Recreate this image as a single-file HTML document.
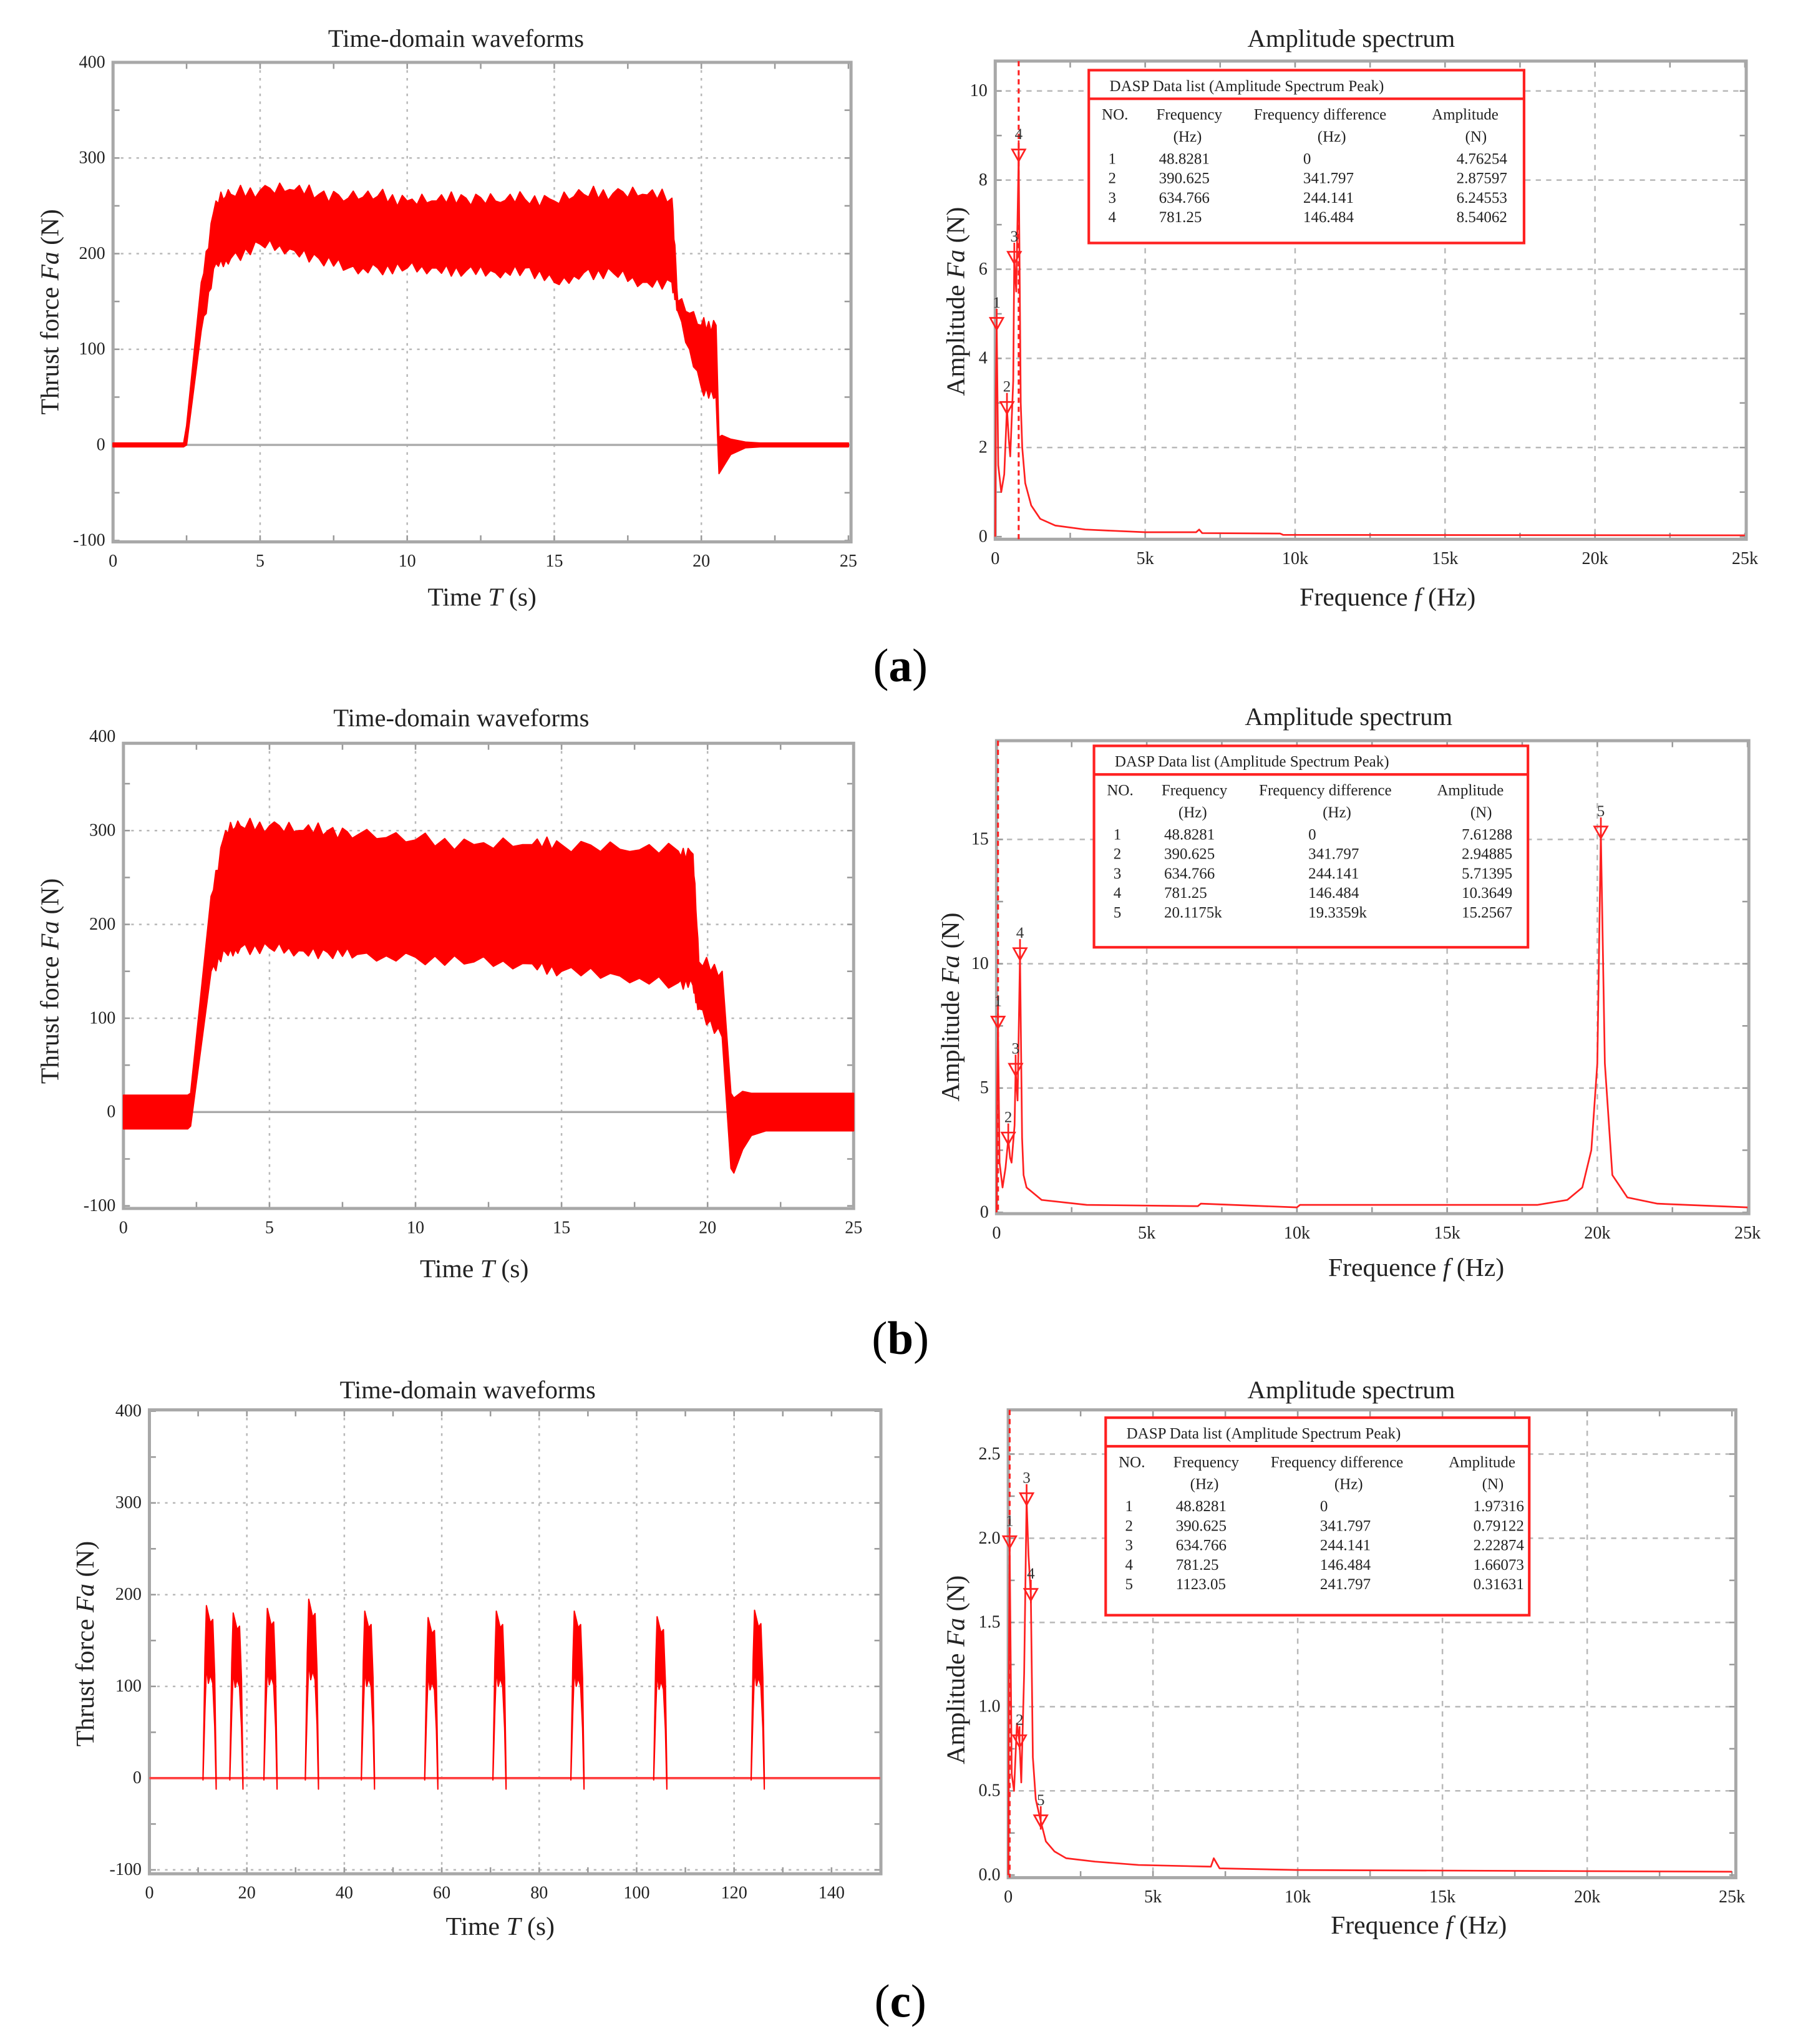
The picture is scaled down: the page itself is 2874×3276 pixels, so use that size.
<!DOCTYPE html>
<html><head><meta charset="utf-8">
<style>
html,body{margin:0;padding:0;background:#fff;}
svg{display:block;font-family:"Liberation Serif",serif;}
</style></head>
<body>
<svg id="fig" width="2874" height="3276" viewBox="0 0 1380 1573" preserveAspectRatio="none" xmlns="http://www.w3.org/2000/svg">
<rect x="0" y="0" width="1380" height="1573" fill="#fff"/>
<text x="693" y="524" font-size="36" text-anchor="middle" font-family="Liberation Serif,serif">(<tspan font-weight="bold">a</tspan>)</text>
<text x="693" y="1042" font-size="36" text-anchor="middle">(<tspan font-weight="bold">b</tspan>)</text>
<text x="693" y="1552" font-size="36" text-anchor="middle">(<tspan font-weight="bold">c</tspan>)</text>
</svg>
<script>
// ---------- DATA ----------
const aTime = [0,2.4,2.5,3,3.5,4,5,6,7,8,9,10,11,12,13,14,15,16,17,18,19,19.2,20,20.5,20.6,20.7,21,21.5,22,25];
const aUpper = [2,2,20,170,255,262,266,267,262,258,260,255,255,258,255,257,255,262,263,262,258,150,125,125,8,10,6,3,2,2];
const aLower = [-2,-2,0,120,190,195,210,205,195,185,185,185,185,182,180,185,170,180,180,170,170,140,60,50,-30,-25,-10,-3,-2,-2];
const bTime = [0,2.2,2.3,3,3.5,4,5,6,7,8,10,12,14,15,17,19,19.5,19.7,20.5,20.8,20.9,21.2,21.5,22,25];
const bUpper = [18,18,20,230,300,305,305,300,300,295,290,285,285,285,280,278,275,160,150,20,15,22,20,20,20];
const bLower = [-18,-18,-15,150,170,175,175,172,170,168,165,160,158,150,145,138,135,110,80,-60,-65,-40,-25,-20,-20];
const cPulseStart = [11,16.5,23.5,32,43.5,56.5,70.5,86.5,103.5,123.5];
const cPulseHeight = [188,180,185,195,182,175,182,182,176,183];
const aFreq = [0,20,48.8,100,200,300,390,450,500,600,634,700,781,850,900,1000,1200,1500,2000,3000,5000,6700,6800,6900,9500,9600,25000];
const aAmp = [0,3.3,4.76,1.6,1.0,1.4,2.88,2.2,1.8,3.5,6.25,5.5,8.54,3.0,2.0,1.2,0.7,0.4,0.25,0.16,0.1,0.1,0.16,0.08,0.07,0.04,0.03];
const bFreq = [0,20,48.8,100,200,300,390,450,500,600,634,700,781,850,900,1000,1500,3000,6700,6800,10000,10100,18000,19000,19500,19800,20000,20117,20250,20500,21000,22000,25000];
const bAmp = [0,5,7.61,2,1.0,1.8,2.95,2.2,2.0,3.5,5.71,4.5,10.36,3.0,1.5,1.0,0.5,0.3,0.25,0.35,0.2,0.3,0.3,0.5,1.0,2.5,6,15.26,6,1.5,0.6,0.35,0.2];
const cFreq = [0,20,48.8,120,200,300,390,450,550,634,700,781,850,950,1123,1300,1600,2000,3000,4500,7000,7100,7300,10000,25000];
const cAmp = [0,1.2,1.97,0.6,0.5,0.9,0.79,0.55,1.2,2.23,1.9,1.66,0.7,0.45,0.32,0.2,0.14,0.1,0.08,0.06,0.05,0.1,0.04,0.03,0.02];
const aPeakF = [48.8281,390.625,634.766,781.25];
const aPeakA = [4.76254,2.87597,6.24553,8.54062];
const aPeakFLabel = ["48.8281","390.625","634.766","781.25"];
const aPeakDLabel = ["0","341.797","244.141","146.484"];
const aPeakALabel = ["4.76254","2.87597","6.24553","8.54062"];
const bPeakF = [48.8281,390.625,634.766,781.25,20117.5];
const bPeakA = [7.61288,2.94885,5.71395,10.3649,15.2567];
const bPeakFLabel = ["48.8281","390.625","634.766","781.25","20.1175k"];
const bPeakDLabel = ["0","341.797","244.141","146.484","19.3359k"];
const bPeakALabel = ["7.61288","2.94885","5.71395","10.3649","15.2567"];
const cPeakF = [48.8281,390.625,634.766,781.25,1123.05];
const cPeakA = [1.97316,0.79122,2.22874,1.66073,0.31631];
const cPeakFLabel = ["48.8281","390.625","634.766","781.25","1123.05"];
const cPeakDLabel = ["0","341.797","244.141","146.484","241.797"];
const cPeakALabel = ["1.97316","0.79122","2.22874","1.66073","0.31631"];
const timeTicksAB = [0,5,10,15,20,25];
const timeTicksC = [0,20,40,60,80,100,120,140];
const forceTicks = [-100,0,100,200,300,400];
const freqTicks = [0,5000,10000,15000,20000,25000];
const freqTickLabels = ["0","5k","10k","15k","20k","25k"];
const aAmpTicks = [0,2,4,6,8,10];
const bAmpTicks = [0,5,10,15];
const cAmpTicks = [0,0.5,1.0,1.5,2.0,2.5];
const cAmpTickLabels = ["0.0","0.5","1.0","1.5","2.0","2.5"];
// fixed jaggedness offsets for band edges (N)
const jagUp = [0,6,-3,8,-5,4,-7,5,2,-4,7,-2];
const jagLo = [0,-5,4,-7,3,-6,5,-3,6,-4,2,-6];

// ---------- DRAWING ----------
const NS='http://www.w3.org/2000/svg';
const svg=document.getElementById('fig');
function mk(tag,attrs,parent,txt){const e=document.createElementNS(NS,tag);for(const k in attrs)e.setAttribute(k,attrs[k]);if(txt!==undefined)e.textContent=txt;(parent||svg).appendChild(e);return e;}

function panel(p){
  const g=mk('g',{});
  
  
  p.sx=v=>p.x0+(v-p.xmin)/(p.xmax-p.xmin)*(p.x1-p.x0);
  p.sy=v=>p.y1-(v-p.ymin)/(p.ymax-p.ymin)*(p.y1-p.y0);
  p.xt.forEach((v,i)=>{ if(i>0&&i<p.xt.length-1){const x=p.sx(v);
    const l=mk('line',{x1:x,x2:x,y1:p.fy0,y2:p.fy1,stroke:'#b8b8b8','stroke-width':1.2,'stroke-dasharray':p.dash},g);
    
    }});
  p.yt.forEach((v,i)=>{const y=p.sy(v); if(y<p.fy0+3||y>p.fy1-3)return;
    const solid=(v===0&&p.zeroSolid);
    const l=mk('line',{x1:p.fx0,x2:p.fx1,y1:y,y2:y,stroke:solid?'#aaa':'#b8b8b8','stroke-width':solid?1.6:1.2,'stroke-dasharray':solid?'none':p.dash},g);
    
    });
  const xs=(p.xt[1]-p.xt[0])/2;
  for(let v=p.xt[0];v<=p.xmax+1e-9;v+=xs){const x=p.sx(v);
    mk('line',{x1:x,x2:x,y1:p.fy1,y2:p.fy1-5,stroke:'#999','stroke-width':1.2},g);
    mk('line',{x1:x,x2:x,y1:p.fy0,y2:p.fy0+5,stroke:'#999','stroke-width':1.2},g);}
  const ys=(p.yt[1]-p.yt[0])/2;
  for(let v=p.yt[0];v<=p.ymax+1e-9;v+=ys){const y=p.sy(v); if(y<p.fy0-1)continue;
    mk('line',{x1:p.fx0,x2:p.fx0+5,y1:y,y2:y,stroke:'#999','stroke-width':1.2},g);
    mk('line',{x1:p.fx1,x2:p.fx1-5,y1:y,y2:y,stroke:'#999','stroke-width':1.2},g);}
  const fr=mk('rect',{x:p.fx0,y:p.fy0,width:p.fx1-p.fx0,height:p.fy1-p.fy0,fill:'none',stroke:'#a8a8a8','stroke-width':2.4},g);
  
  
  p.xt.forEach((v,i)=>{const t=mk('text',{x:p.sx(v),y:p.fy1+19,'font-size':13.5,'text-anchor':'middle',fill:'#222'},g,p.xl?p.xl[i]:String(v));
    
    });
  p.yt.forEach((v,i)=>{const t=mk('text',{x:p.fx0-6,y:p.sy(v)+4,'font-size':13.5,'text-anchor':'end',fill:'#222'},g,p.yl?p.yl[i]:String(v));
    
    });
  const ti=mk('text',{x:p.tx,y:p.ty,'font-size':19.5,'text-anchor':'middle',fill:'#222'},g,p.title);
  
  
  const xl=mk('text',{x:p.xlx,y:p.xly,'font-size':20,'text-anchor':'middle',fill:'#222'},g);
  xl.innerHTML=p.xlabel;
  
  
  const yl=mk('text',{x:0,y:0,'font-size':20,'text-anchor':'middle',fill:'#222',transform:`translate(${p.ylx},${p.yly}) rotate(-90)`},g);
  yl.innerHTML=p.ylabel;
  
  
  p.g=g;
  return p;
}

function band(p,t,up,lo,name,jag){
  // densify with jag offsets on plateau segments
  const T=[],U=[],L=[];
  for(let i=0;i<t.length;i++){
    T.push(t[i]);U.push(up[i]);L.push(lo[i]);
    if(jag&&i<t.length-1&&up[i]>100&&up[i+1]>100){
      for(let k=1;k<6;k++){const f=k/6;const j=(i*5+k)%jagUp.length;
        T.push(t[i]+(t[i+1]-t[i])*f);
        U.push(up[i]+(up[i+1]-up[i])*f+jagUp[j]);
        L.push(lo[i]+(lo[i+1]-lo[i])*f+jagLo[j]);}
    }
  }
  let pts=T.map((v,i)=>p.sx(v)+','+p.sy(U[i]));
  for(let i=T.length-1;i>=0;i--)pts.push(p.sx(T[i])+','+p.sy(L[i]));
  const e=mk('polygon',{points:pts.join(' '),fill:'#ff0000',stroke:'#ff0000','stroke-width':1,'stroke-linejoin':'round'},p.g);
  
  
}
function line(p,xs,ys,name){
  const pts=xs.map((v,i)=>p.sx(v)+','+p.sy(ys[i])).join(' ');
  const e=mk('polyline',{points:pts,fill:'none',stroke:'#ff2020','stroke-width':1.3,'stroke-linejoin':'round'},p.g);
  
  
}
function peaks(p,f,a,name){
  f.forEach((v,i)=>{const x=p.sx(v),y=p.sy(a[i]);
    const m=mk('path',{d:`M${x-5},${y-5} L${x+5},${y-5} L${x},${y+4} Z M${x},${y-12} L${x},${y+6}`,fill:'none',stroke:'#ff2020','stroke-width':1.3},p.g);
    
    
    const t=mk('text',{x:x,y:y-13,'font-size':12,'text-anchor':'middle',fill:'#333'},p.g,String(i+1));
    
    });
}
function vdash(p,f,name){const x=p.sx(f);
  const e=mk('line',{x1:x,x2:x,y1:p.fy0,y2:p.fy1,stroke:'#ff2020','stroke-width':1.5,'stroke-dasharray':'4,3'},p.g);
  
  }
function table(bx,by,bw,bh,fl,dl,al,name){
  const g=mk('g',{});
  
  
  mk('rect',{x:bx,y:by,width:bw,height:bh,fill:'#fff',stroke:'#ff2020','stroke-width':2},g);
  mk('line',{x1:bx,x2:bx+bw,y1:by+22,y2:by+22,stroke:'#ff2020','stroke-width':2},g);
  const T=(x,y,s,anc)=>mk('text',{x:bx+x,y:by+y,'font-size':12,fill:'#222','text-anchor':anc||'start'},g,s);
  T(16,16,'DASP Data list (Amplitude Spectrum Peak)');
  T(10,38,'NO.');T(52,38,'Frequency');T(127,38,'Frequency difference');T(264,38,'Amplitude');
  T(76,55,'(Hz)','middle');T(187,55,'(Hz)','middle');T(298,55,'(N)','middle');
  fl.forEach((s,i)=>{const y=72+i*15;T(15,y,String(i+1));T(54,y,s);T(165,y,dl[i]);T(322,y,al[i],'end');});
}

const PaL=panel({name:'time-domain-chart-a',x0:87,x1:653,y0:48,y1:416,xmin:0,xmax:25,ymin:-100,ymax:400,fx0:87,fx1:655,fy0:48,fy1:417,
  xt:timeTicksAB,yt:forceTicks,dash:'2,4',zeroSolid:true,title:'Time-domain waveforms',tx:351,ty:36,
  xlabel:'Time <tspan font-style="italic">T</tspan> (s)',xlx:371,xly:466,ylabel:'Thrust force <tspan font-style="italic">Fa</tspan> (N)',ylx:45,yly:240});
band(PaL,aTime,aUpper,aLower,'thrust-force-series-a',true);
const PaR=panel({name:'spectrum-chart-a',x0:766,x1:1343,y0:70,y1:413,xmin:0,xmax:25000,ymin:0,ymax:10,fx0:766,fx1:1344,fy0:47,fy1:415,
  xt:freqTicks,xl:freqTickLabels,yt:aAmpTicks,dash:'4,4',title:'Amplitude spectrum',tx:1040,ty:36,
  xlabel:'Frequence <tspan font-style="italic">f</tspan>  (Hz)',xlx:1068,xly:466,ylabel:'Amplitude <tspan font-style="italic">Fa</tspan> (N)',ylx:742,yly:232});
vdash(PaR,781.25,'cursor-line-a');
line(PaR,aFreq,aAmp,'amplitude-series-a');
peaks(PaR,aPeakF,aPeakA,'peak-a');
table(838,54,335,133,aPeakFLabel,aPeakDLabel,aPeakALabel,'peak-table-a');

const PbL=panel({name:'time-domain-chart-b',x0:95,x1:657,y0:567,y1:928,xmin:0,xmax:25,ymin:-100,ymax:400,fx0:95,fx1:657,fy0:572,fy1:930,
  xt:timeTicksAB,yt:forceTicks,dash:'2,4',zeroSolid:true,title:'Time-domain  waveforms',tx:355,ty:559,
  xlabel:'Time <tspan font-style="italic">T</tspan> (s)',xlx:365,xly:983,ylabel:'Thrust force <tspan font-style="italic">Fa</tspan> (N)',ylx:45,yly:755});
band(PbL,bTime,bUpper,bLower,'thrust-force-series-b',true);
const PbR=panel({name:'spectrum-chart-b',x0:767,x1:1345,y0:646,y1:933,xmin:0,xmax:25000,ymin:0,ymax:15,fx0:767,fx1:1346,fy0:570,fy1:934,
  xt:freqTicks,xl:freqTickLabels,yt:bAmpTicks,dash:'4,4',title:'Amplitude spectrum',tx:1038,ty:558,
  xlabel:'Frequence <tspan font-style="italic">f</tspan>  (Hz)',xlx:1090,xly:982,ylabel:'Amplitude <tspan font-style="italic">Fa</tspan> (N)',ylx:738,yly:775});
vdash(PbR,48.8,'cursor-line-b');
line(PbR,bFreq,bAmp,'amplitude-series-b');
peaks(PbR,bPeakF,bPeakA,'peak-b');
table(842,574,334,155,bPeakFLabel,bPeakDLabel,bPeakALabel,'peak-table-b');

const PcL=panel({name:'time-domain-chart-c',x0:115,x1:640,y0:1086,y1:1439,xmin:0,xmax:140,ymin:-100,ymax:400,fx0:115,fx1:678,fy0:1085,fy1:1442,
  xt:timeTicksC,yt:forceTicks,dash:'2,4',zeroSolid:true,title:'Time-domain  waveforms',tx:360,ty:1076,
  xlabel:'Time <tspan font-style="italic">T</tspan> (s)',xlx:385,xly:1489,ylabel:'Thrust force <tspan font-style="italic">Fa</tspan> (N)',ylx:72,yly:1265});
(function(){
  const bl=mk('line',{x1:PcL.sx(0),x2:PcL.sx(150),y1:PcL.sy(0),y2:PcL.sy(0),stroke:'#ff4040','stroke-width':1.8},PcL.g);
  
  
  cPulseStart.forEach((t0,i)=>{const h=cPulseHeight[i];
    const t=[t0,t0+0.4,t0+0.7,t0+1.1,t0+1.5,t0+2.0,t0+2.4,t0+2.7];
    const u=[2,h*0.7,h,h*0.95,h*0.9,h*0.92,h*0.6,2];
    const l=[-2,h*0.4,h*0.65,h*0.55,h*0.6,h*0.55,h*0.3,-12];
    band(PcL,t,u,l,'thrust-pulse-'+(i+1),false);
  });
})();
const PcR=panel({name:'spectrum-chart-c',x0:776,x1:1333,y0:1119,y1:1443,xmin:0,xmax:25000,ymin:0,ymax:2.5,fx0:776,fx1:1336,fy0:1085,fy1:1445,
  xt:freqTicks,xl:freqTickLabels,yt:cAmpTicks,yl:cAmpTickLabels,dash:'4,4',title:'Amplitude spectrum',tx:1040,ty:1076,
  xlabel:'Frequence <tspan font-style="italic">f</tspan>  (Hz)',xlx:1092,xly:1488,ylabel:'Amplitude <tspan font-style="italic">Fa</tspan> (N)',ylx:742,yly:1285});
vdash(PcR,48.8,'cursor-line-c');
line(PcR,cFreq,cAmp,'amplitude-series-c');
peaks(PcR,cPeakF,cPeakA,'peak-c');
table(851,1091,326,152,cPeakFLabel,cPeakDLabel,cPeakALabel,'peak-table-c');
</script>
</body></html>
